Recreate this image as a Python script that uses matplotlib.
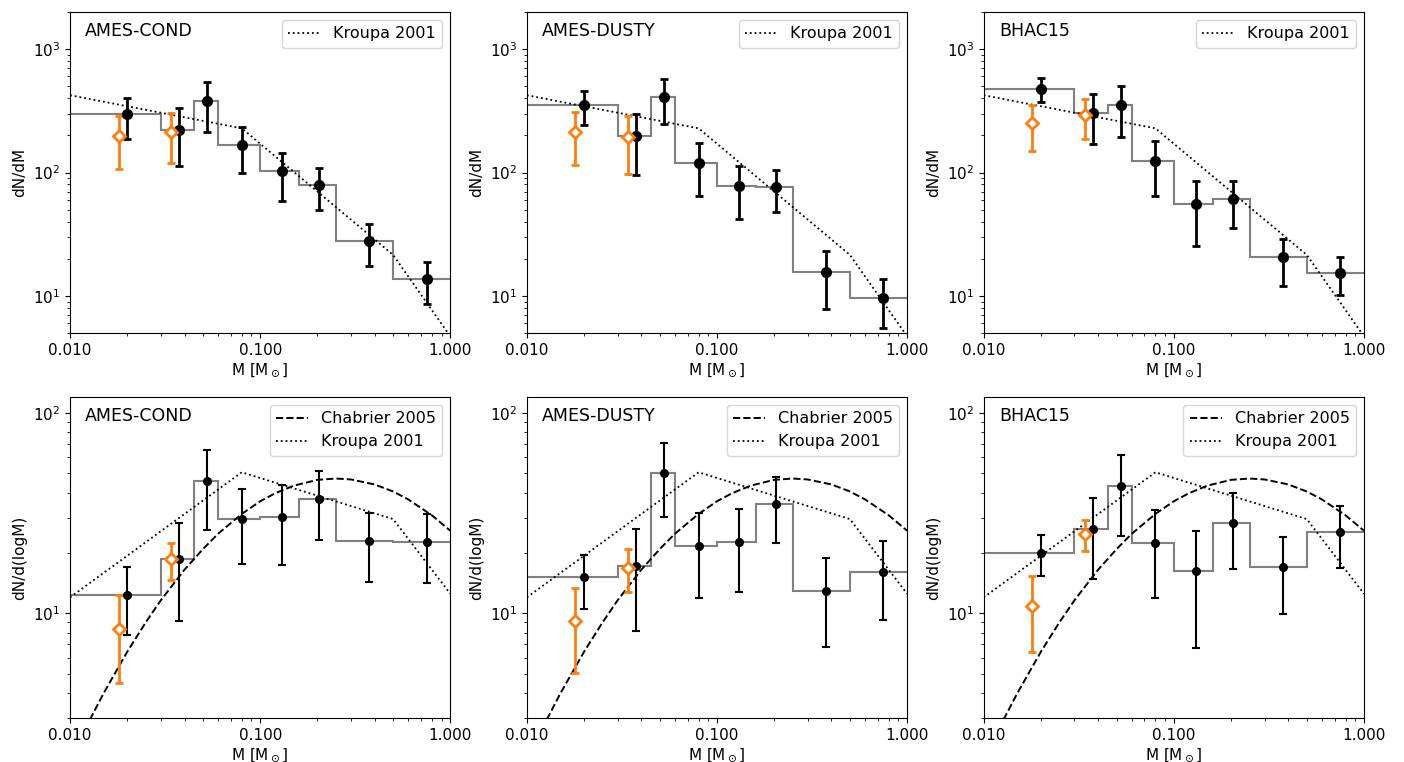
import matplotlib
matplotlib.use('Agg')

import matplotlib.pyplot as plt
from matplotlib.ticker import FormatStrFormatter
import numpy as np

# mass bins and where the points sit
edges = [0.01, 0.03, 0.045, 0.06, 0.1, 0.16, 0.25, 0.5, 1.0]
m_mid = [0.02, 0.0375, 0.0525, 0.08, 0.13, 0.205, 0.375, 0.75]
m_extra = [0.018, 0.034]

models = ['AMES-COND', 'AMES-DUSTY', 'BHAC15']

# dN/dM (top row): value, lower, upper
dndm = {
    'AMES-COND': ([296, 221, 381, 166, 102, 79.5, 27.9, 13.6],
                  [186, 112, 214, 100, 58.7, 49.7, 17.5, 8.6],
                  [404, 331, 543, 232, 145, 108, 38, 18.7]),
    'AMES-DUSTY': ([350, 196, 413, 120, 77.6, 76.2, 15.5, 9.7],
                   [241, 94.6, 249, 64.9, 41.7, 47.9, 7.8, 5.5],
                   [459, 299, 574, 175, 113, 104, 23.2, 13.8]),
    'BHAC15': ([474, 301, 352, 123, 55.2, 60.5, 20.6, 15.4],
               [370, 170, 194, 64, 25.2, 35.7, 12.0, 10.2],
               [585, 434, 507, 181, 85.1, 85.1, 29.1, 20.7]),
}
dndm_extra = {
    'AMES-COND': ([199, 212], [106, 120], [289, 301]),
    'AMES-DUSTY': ([212, 194], [115, 97], [309, 289]),
    'BHAC15': ([253, 293], [148, 186], [354, 396]),
}

# dN/dlogM (bottom row)
dndlogm = {
    'AMES-COND': ([12.4, 18.6, 45.8, 29.5, 30.3, 37.2, 22.9, 22.7],
                  [7.8, 9.1, 26.1, 17.7, 17.5, 23.3, 14.3, 14.2],
                  [17.0, 28.2, 65.4, 41.7, 43.6, 51.2, 31.8, 31.3]),
    'AMES-DUSTY': ([15.1, 17.2, 50.2, 21.7, 22.7, 35.2, 12.9, 16.1],
                   [10.5, 8.13, 30.1, 11.9, 12.7, 22.5, 6.78, 9.26],
                   [19.5, 26.3, 70.8, 31.5, 33.0, 47.8, 18.9, 22.8]),
    'BHAC15': ([20.0, 26.2, 43.2, 22.3, 16.2, 28.2, 17.0, 25.5],
               [15.3, 14.8, 24.3, 11.9, 6.67, 16.7, 9.96, 16.9],
               [24.6, 37.7, 61.9, 32.7, 25.7, 39.8, 24.1, 34.1]),
}
dndlogm_extra = {
    'AMES-COND': ([8.39, 18.6], [4.47, 14.7], [12.3, 22.5]),
    'AMES-DUSTY': ([9.12, 16.8], [5.05, 12.7], [13.3, 20.8]),
    'BHAC15': ([10.9, 24.8], [6.44, 20.4], [15.3, 29.2]),
}

# reference IMFs, values
kroupa_m = [0.01, 0.08, 0.5, 1.0]
kroupa_dndm = [423, 228, 21.5, 4.7]
kroupa_dlogm = [12.0, 50.5, 29.5, 12.5]

chab_m = [0.012, 0.015, 0.02, 0.025, 0.03, 0.04, 0.05, 0.06, 0.08, 0.1,
          0.12, 0.15, 0.2, 0.25, 0.3, 0.4, 0.5, 0.6, 0.8, 1.0]
chab_dlogm = [2.65, 3.98, 6.43, 9.0, 11.6, 16.5, 20.9, 24.9, 31.3, 36.2,
              39.7, 43.3, 46.3, 47.0, 46.5, 43.9, 40.5, 37.0, 30.8, 25.8]

fig, axes = plt.subplots(2, 3, figsize=(14.04, 7.62), dpi=100)
fig.subplots_adjust(left=0.0499, right=0.9715, top=0.9843, bottom=0.0577,
                    wspace=0.2013, hspace=0.199)

for j, name in enumerate(models):
    # top row: dN/dM
    ax = axes[0, j]
    v, lo, hi = [np.array(a) for a in dndm[name]]
    ax.stairs(v, edges, baseline=None, color='gray', lw=1.5)
    ax.errorbar(m_mid, v, yerr=[v - lo, hi - v], fmt='o', color='black',
                ms=7, elinewidth=2, capsize=3, capthick=2, zorder=3)
    v, lo, hi = [np.array(a) for a in dndm_extra[name]]
    ax.errorbar(m_extra, v, yerr=[v - lo, hi - v], fmt='D', color='C1',
                mfc='white', ms=6, mew=2, elinewidth=2, capsize=3,
                capthick=2, zorder=3)
    ax.plot(kroupa_m, kroupa_dndm, 'k:', lw=1.3, label='Kroupa 2001')
    ax.set_ylim(5, 2000)
    ax.set_ylabel('dN/dM', fontsize=11)
    ax.legend(loc='upper right', fontsize=11.5)

    # bottom row: dN/dlogM
    ax = axes[1, j]
    v, lo, hi = [np.array(a) for a in dndlogm[name]]
    ax.stairs(v, edges, baseline=None, color='gray', lw=1.5)
    ax.errorbar(m_mid, v, yerr=[v - lo, hi - v], fmt='o', color='black',
                ms=5.5, elinewidth=1.5, capsize=3, capthick=1.5, zorder=3)
    v, lo, hi = [np.array(a) for a in dndlogm_extra[name]]
    ax.errorbar(m_extra, v, yerr=[v - lo, hi - v], fmt='D', color='C1',
                mfc='white', ms=6, mew=2, elinewidth=2, capsize=3,
                capthick=2, zorder=3)
    ax.plot(chab_m, chab_dlogm, 'k--', lw=1.4, label='Chabrier 2005')
    ax.plot(kroupa_m, kroupa_dlogm, 'k:', lw=1.3, label='Kroupa 2001')
    ax.set_ylim(3, 120)
    ax.set_ylabel('dN/d(logM)', fontsize=11)
    ax.legend(loc='upper right', fontsize=11.5)

    for ax in axes[:, j]:
        ax.set_xscale('log')
        ax.set_yscale('log')
        ax.set_xlim(0.01, 1.0)
        ax.xaxis.set_major_formatter(FormatStrFormatter('%.3f'))
        ax.tick_params(labelsize=11)
        ax.set_xlabel(r'M [M$_\odot$]', fontsize=11, labelpad=2)
        ax.text(0.04, 0.97, name, transform=ax.transAxes, fontsize=12.5,
                va='top', ha='left')

plt.savefig('out.png', dpi=100)
